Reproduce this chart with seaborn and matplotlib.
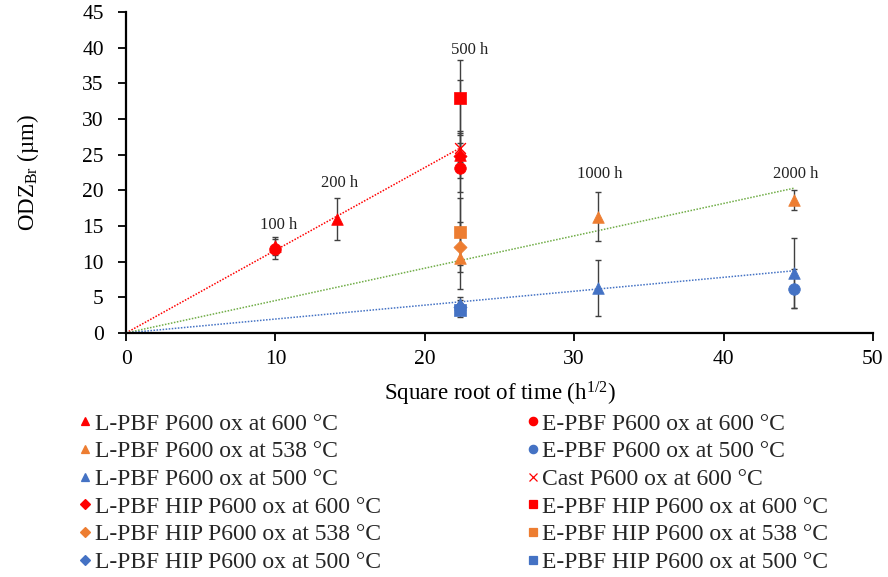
import numpy as np
import pandas as pd
import seaborn as sns
import matplotlib.pyplot as plt
from matplotlib.lines import Line2D

sns.set_theme(style="ticks")
plt.rcParams['font.family'] = ['Liberation Serif', 'DejaVu Serif']
plt.rcParams['mathtext.fontset'] = 'custom'
plt.rcParams['mathtext.rm'] = 'Liberation Serif'
plt.rcParams['mathtext.it'] = 'Liberation Serif:italic'

RED = "#FF0000"
ORANGE = "#ED7D31"
BLUE = "#4472C4"
GREEN = "#70AD47"

# series: name, oxidation hours, ODZ values, error (+/-)
names = ["L-PBF P600 ox at 600 °C", "L-PBF P600 ox at 538 °C", "L-PBF P600 ox at 500 °C",
         "L-PBF HIP P600 ox at 600 °C", "L-PBF HIP P600 ox at 538 °C", "L-PBF HIP P600 ox at 500 °C",
         "E-PBF P600 ox at 600 °C", "E-PBF P600 ox at 500 °C", "Cast P600 ox at 600 °C",
         "E-PBF HIP P600 ox at 600 °C", "E-PBF HIP P600 ox at 538 °C", "E-PBF HIP P600 ox at 500 °C"]
hours = [[100, 200, 500], [500, 1000, 2000], [500, 1000, 2000],
         [500], [500], [500],
         [100, 500], [2000], [500],
         [500], [500], [500]]
odz = [[12.2, 16.0, 25.0], [10.5, 16.3, 18.6], [4.0, 6.3, 8.4],
       [24.8], [12.1], [3.6],
       [11.8, 23.2], [6.2], [26.0],
       [33.0], [14.2], [3.2]]
err = [[1.2, 2.9, 3.3], [4.3, 3.4, 1.4], [1.0, 3.9, 4.9],
       [10.7], [3.5], [1.0],
       [1.4, 3.4], [2.7], [2.0],
       [5.3], [4.7], [1.0]]
colors = [RED, ORANGE, BLUE, RED, ORANGE, BLUE,
          RED, BLUE, RED, RED, ORANGE, BLUE]
markers = ["^", "^", "^", "D", "D", "D", "o", "o", "x", "s", "s", "s"]

# linear fits through origin (slope, end x in h)
fit_slopes = [1.16, 0.454, 0.195]
fit_end_hours = [500, 2000, 2000]
fit_colors = [RED, GREEN, BLUE]

# time labels
label_texts = ["100 h", "200 h", "500 h", "1000 h", "2000 h"]
label_x = [10.2, 14.3, 23.0, 31.7, 44.8]
label_y = [15.1, 21.0, 39.7, 22.3, 22.3]

rows = []
for n, h, v, e in zip(names, hours, odz, err):
    for hh, vv, ee in zip(h, v, e):
        rows.append({"series": n, "x": np.sqrt(hh), "y": vv, "err": ee})
df = pd.DataFrame(rows)

fig = plt.figure(figsize=(8.88, 5.77), dpi=100)
ax = fig.add_axes([0.142, 0.423, 0.841, 0.556])

for s, c, ehr in zip(fit_slopes, fit_colors, fit_end_hours):
    xs = np.array([0, np.sqrt(ehr)])
    sns.lineplot(x=xs, y=s * xs, ax=ax, color=c, lw=1.1, linestyle=(0, (1, 1)), zorder=1)

ax.errorbar(df["x"], df["y"], yerr=df["err"], fmt="none", ecolor="#404040",
            elinewidth=1.0, capsize=2.5, capthick=1.0, zorder=2)

handles = []
for n, c, m in zip(names, colors, markers):
    sub = df[df["series"] == n]
    if m == "x":
        sns.scatterplot(data=sub, x="x", y="y", ax=ax, color=c, marker="x", s=60,
                        linewidth=1.0, zorder=3.5)
    elif m == "D":
        # HIP diamonds sit below the other markers
        sns.scatterplot(data=sub, x="x", y="y", ax=ax, color=c, marker=m, s=45,
                        edgecolor=c, linewidth=0.5, zorder=2.5)
    else:
        sns.scatterplot(data=sub, x="x", y="y", ax=ax, color=c, marker=m, s=70,
                        edgecolor=c, linewidth=0.5, zorder=3)
    handles.append(Line2D([], [], color=c, marker=m, linestyle="none",
                          markersize=6 if m != "D" else 5, markeredgewidth=0.9))

for t, xx, yy in zip(label_texts, label_x, label_y):
    ax.text(xx, yy, t, ha="center", va="center", fontsize=12, color="#222222")

ax.set_xlim(0, 50)
ax.set_ylim(0, 45)
ax.set_xticks(np.arange(0, 51, 10))
ax.set_yticks(np.arange(0, 46, 5))
ax.tick_params(axis="both", labelsize=15.5, length=5.5, width=1.3, color="black",
               direction="out", labelcolor="black")
ax.tick_params(axis="y", pad=10.5)
ax.tick_params(axis="x", pad=6.5)
for sp in ["top", "right"]:
    ax.spines[sp].set_visible(False)
for sp in ["left", "bottom"]:
    ax.spines[sp].set_color("black")
    ax.spines[sp].set_linewidth(1.6)
ax.set_xlabel("Square root of time (h$^{1/2}$)", fontsize=16.5, color="black")
ax.set_ylabel("ODZ$_{\\mathrm{Br}}$ (µm)", fontsize=16.5, color="black")
ax.xaxis.set_label_coords(0.5, -0.145)
ax.yaxis.set_label_coords(-0.114, 0.5)

leg_kw = dict(frameon=False, fontsize=17, handletextpad=0.1, handlelength=0.6,
              labelspacing=0.26, borderaxespad=0, borderpad=0)
leg1 = fig.legend(handles[:6], names[:6], loc="upper left",
                  bbox_to_anchor=(0.088, 0.284), **leg_kw)
leg2 = fig.legend(handles[6:], names[6:], loc="upper left",
                  bbox_to_anchor=(0.592, 0.284), **leg_kw)

fig.savefig("out.png", dpi=100)
